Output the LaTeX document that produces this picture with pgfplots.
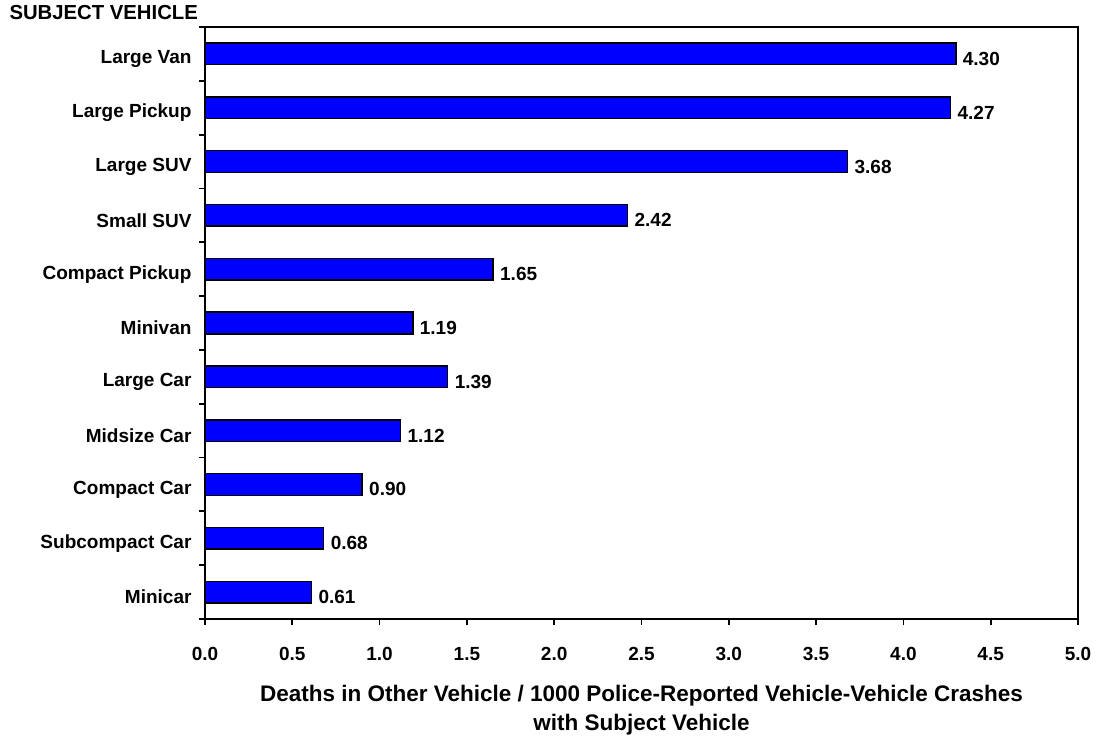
\documentclass[border=0pt]{standalone}
\usepackage{fontspec}
\setmainfont{Liberation Sans}
\usepackage{pgfplots}
\pgfplotsset{compat=1.18}
\definecolor{barblue}{RGB}{0,0,255}

\newcommand\tickfont{\fontsize{19bp}{22bp}\selectfont\bfseries}

\begin{document}
\begin{tikzpicture}
\begin{axis}[
	scale only axis,
	width=873bp, height=592bp,
	xbar, bar width=21.6bp,
	xmin=0, xmax=5, ymin=-0.5, ymax=10.5,
	axis line style={line width=1.8bp},
	tick pos=left,
	tick align=outside,
	major tick length=6bp,
	minor tick length=6bp,
	xtick={0,0.5,1,1.5,2,2.5,3,3.5,4,4.5,5},
	x tick style={line width=1.8bp, black},
	xticklabel style={font=\tickfont, yshift=-19bp,
		/pgf/number format/.cd, fixed, fixed zerofill, precision=1, assume math mode=true},
	ytick={0,...,10},
	yticklabels={Minicar, Subcompact Car, Compact Car, Midsize Car, Large Car, Minivan,
		Compact Pickup, Small SUV, Large SUV, Large Pickup, Large Van},
	yticklabel style={font=\tickfont, xshift=-4bp, yshift=-5bp},
	minor ytick={-0.5,0.5,1.5,2.5,3.5,4.5,5.5,6.5,7.5,8.5,9.5,10.5},
	major y tick style={draw=none},
	minor y tick style={line width=1.8bp, black},
	nodes near coords={\pgfmathprintnumber[fixed,fixed zerofill,precision=2,assume math mode=true]{\pgfplotspointmeta}},
	nodes near coords style={font=\tickfont, anchor=west, xshift=3bp, yshift=-5bp},
	title={SUBJECT VEHICLE},
	title style={font=\fontsize{20.3bp}{24bp}\selectfont\bfseries,
		at={(axis description cs:0,1)}, anchor=base west, xshift=-199bp, yshift=2bp},
	xlabel={Deaths in Other Vehicle / 1000 Police-Reported Vehicle-Vehicle Crashes\\with Subject Vehicle},
	every axis x label/.style={at={(axis description cs:0.5,0)}, anchor=north, yshift=-62.5bp,
		align=center, font=\fontsize{22.5bp}{29.5bp}\selectfont\bfseries},
]
\addplot[fill=barblue, draw=black, line width=1.5bp] coordinates {
	(0.61,0) (0.68,1) (0.90,2) (1.12,3) (1.39,4) (1.19,5)
	(1.65,6) (2.42,7) (3.68,8) (4.27,9) (4.30,10)
};
\end{axis}
\pgfresetboundingbox
\path (current axis.south west) ++(-205bp,-119bp) rectangle ++(1102bp,738bp);
\end{tikzpicture}
\end{document}
